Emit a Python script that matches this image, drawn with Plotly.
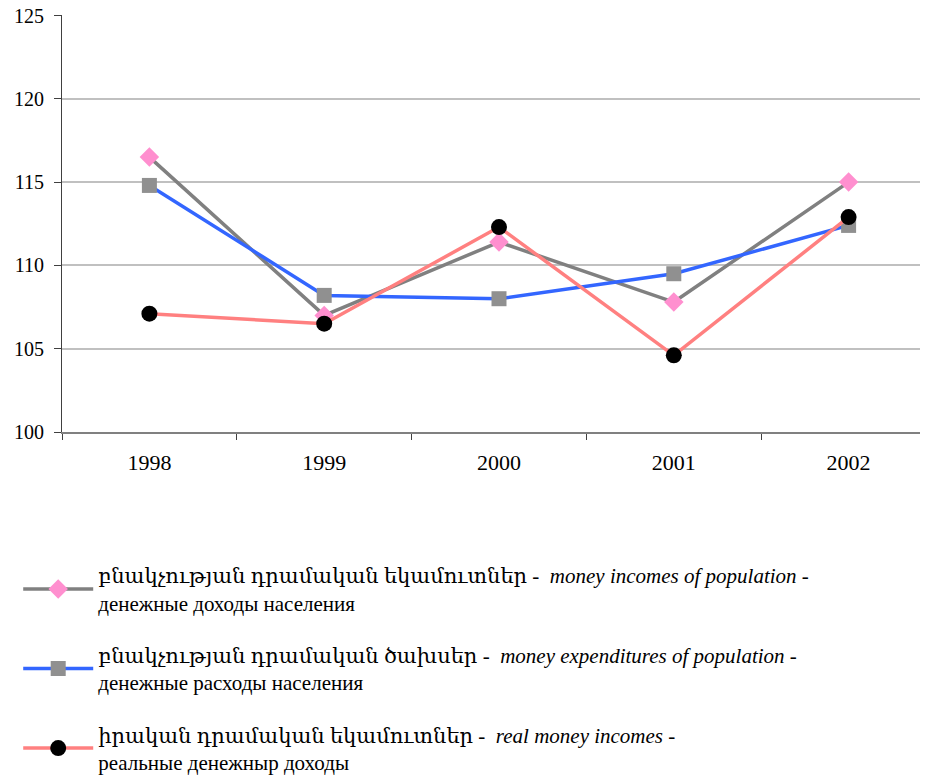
import plotly.graph_objects as go

years = ["1998", "1999", "2000", "2001", "2002"]
incomes = [116.5, 107.0, 111.4, 107.8, 115.0]
expenditures = [114.8, 108.2, 108.0, 109.5, 112.4]
real_incomes = [107.1, 106.5, 112.3, 104.6, 112.9]
y_ticks = [100, 105, 110, 115, 120, 125]

names = [
    "բնակչության դրամական եկամուտներ -  <i>money incomes of population</i> -<br>денежные доходы населения",
    "բնակչության դրամական ծախսեր -  <i>money expenditures of population</i> -<br>денежные расходы населения",
    "իրական դրամական եկամուտներ -  <i>real money incomes</i> -<br>реальные денежныр доходы",
]

font = "Liberation Serif, DejaVu Serif, serif"

fig = go.Figure()
fig.add_trace(go.Scatter(
    x=years, y=incomes, mode="lines+markers", name=names[0], legendgroup="a",
    line=dict(color="#808080", width=3.5),
    marker=dict(symbol="diamond", size=15, color="#ff8fcf", line=dict(width=0)),
))
fig.add_trace(go.Scatter(
    x=years, y=expenditures, mode="lines+markers", name=names[1], legendgroup="b",
    line=dict(color="#3366ff", width=3.5),
    marker=dict(symbol="square", size=15, color="#909090", line=dict(width=0)),
))
fig.add_trace(go.Scatter(
    x=years, y=real_incomes, mode="lines+markers", name=names[2], legendgroup="c",
    line=dict(color="#ff8080", width=3.5),
    marker=dict(symbol="circle", size=16, color="#000000", line=dict(width=0)),
))

fig.update_layout(
    width=928, height=776,
    margin=dict(l=54, r=0, t=7, b=352, autoexpand=False),
    paper_bgcolor="white", plot_bgcolor="white",
    font=dict(family=font, size=21, color="black"),
    xaxis=dict(
        type="category", range=[-0.5, 4.5], tickson="boundaries",
        ticks="outside", ticklen=6, tickcolor="#404040",
        showline=True, linecolor="#808080", linewidth=1.5,
        showgrid=False, ticklabelstandoff=10,
        tickfont=dict(family=font, size=22),
    ),
    yaxis=dict(
        range=[100, 125.03], tickvals=y_ticks, ticks="outside", ticklen=7,
        tickcolor="#404040", ticklabelstandoff=6,
        showline=True, linecolor="#404040", linewidth=1,
        showgrid=True, gridcolor="#c0c0c0", gridwidth=1.5,
        zeroline=False, tickfont=dict(family=font, size=20),
        automargin=False, ticklabeloverflow="allow",
    ),
    showlegend=True,
    legend=dict(
        xref="container", yref="container", x=0.011, y=0.295,
        xanchor="left", yanchor="top",
        tracegroupgap=22, font=dict(family=font, size=21),
        itemwidth=70, bgcolor="rgba(0,0,0,0)",
    ),
)

fig.write_html("out.html")
